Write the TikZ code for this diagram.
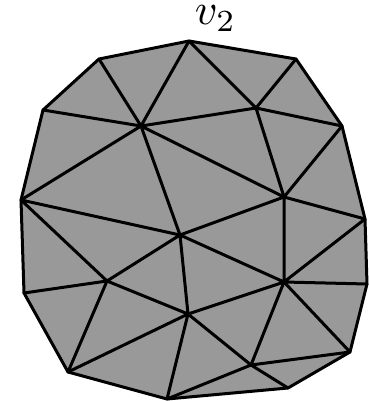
\documentclass[tikz,border=0pt]{standalone}
\usepackage{graphicx}
\begin{document}
\begin{tikzpicture}[x=1pt,y=-1pt,line width=3pt,line join=round,line cap=round,
  edge/.style={draw=black},
  region/.style={fill=black!40,draw=black}]
\useasboundingbox (0,0) rectangle (368,401);
\coordinate (v2) at (189,41);
\coordinate (E) at (296,59);
\coordinate (G) at (342,126);
\coordinate (R1) at (365,219);
\coordinate (R2) at (367,284);
\coordinate (P) at (350,352);
\coordinate (S) at (288,388);
\coordinate (N) at (167,399);
\coordinate (L) at (68,372);
\coordinate (K) at (24,293);
\coordinate (D) at (21,200);
\coordinate (B) at (43,110);
\coordinate (A) at (99,59);
\coordinate (C) at (141,126);
\coordinate (F) at (256,108);
\coordinate (H) at (284,197);
\coordinate (I) at (180,235);
\coordinate (J) at (107,281);
\coordinate (M) at (188,314);
\coordinate (O) at (284,282);
\coordinate (Q) at (251,365);
\path[region] (v2) -- (E) -- (G) -- (R1) -- (R2) -- (P) -- (S) -- (N) -- (L) -- (K) -- (D) -- (B) -- (A) -- cycle;
\draw[edge] (A) -- (C) (B) -- (C) (v2) -- (C) (v2) -- (F) (E) -- (F) (C) -- (F)
  (F) -- (G) (F) -- (H) (G) -- (H) (C) -- (H) (C) -- (I) (D) -- (C)
  (D) -- (I) (D) -- (J) (K) -- (J) (J) -- (I) (J) -- (M) (J) -- (L)
  (L) -- (M) (M) -- (N) (M) -- (I) (I) -- (H) (I) -- (O) (H) -- (O)
  (H) -- (R1) (R1) -- (O) (O) -- (R2) (M) -- (O) (M) -- (Q) (Q) -- (O)
  (O) -- (P) (Q) -- (P) (Q) -- (S) (N) -- (Q);
\node[anchor=base,inner sep=0pt] (lbl) at (215.5,25) {\scalebox{4.4}{$v_2$}};
\end{tikzpicture}
\end{document}
